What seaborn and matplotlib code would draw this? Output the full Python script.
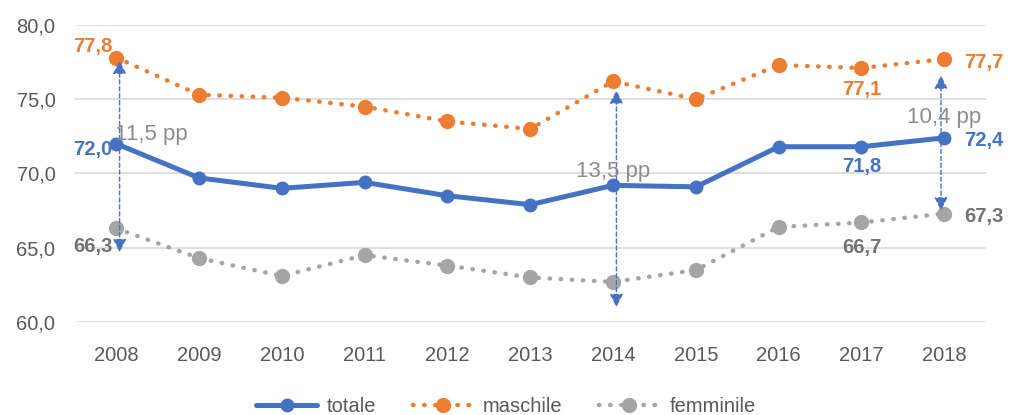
import matplotlib
matplotlib.use("Agg")
import matplotlib.pyplot as plt
import seaborn as sns
import pandas as pd

years = [2008, 2009, 2010, 2011, 2012, 2013, 2014, 2015, 2016, 2017, 2018]
totale = [72.0, 69.7, 69.0, 69.4, 68.5, 67.9, 69.2, 69.1, 71.8, 71.8, 72.4]
maschile = [77.8, 75.3, 75.1, 74.5, 73.5, 73.0, 76.2, 75.0, 77.3, 77.1, 77.7]
femminile = [66.3, 64.3, 63.1, 64.5, 63.8, 63.0, 62.7, 63.5, 66.4, 66.7, 67.3]
gap_labels = {2008: "11,5 pp", 2014: "13,5 pp", 2018: "10,4 pp"}

BLUE = "#4472C4"
ORANGE = "#ED7D31"
GREY = "#A5A5A5"
TXT = "#595959"
LABGREY = "#767171"

sns.set_theme(style="white")
plt.rcParams['font.family'] = ['Liberation Sans', 'DejaVu Sans']

df = pd.DataFrame({"anno": years, "totale": totale,
                   "maschile": maschile, "femminile": femminile})

fig = plt.figure(figsize=(10.12, 4.15), dpi=100)
ax = fig.add_axes([0.074, 0.224, 0.9, 0.716])

for y in [60, 65, 70, 75, 80]:
    ax.axhline(y, color="#D9D9D9", lw=1.2, zorder=0)

sns.lineplot(data=df, x="anno", y="maschile", ax=ax, color=ORANGE, lw=3.2,
             marker="o", markersize=11, markeredgewidth=0, label="maschile",
             linestyle=(0, (0.1, 2.4)), dash_capstyle="round", zorder=3)
sns.lineplot(data=df, x="anno", y="femminile", ax=ax, color=GREY, lw=3.2,
             marker="o", markersize=11, markeredgewidth=0, label="femminile",
             linestyle=(0, (0.1, 2.4)), dash_capstyle="round", zorder=3)
sns.lineplot(data=df, x="anno", y="totale", ax=ax, color=BLUE, lw=3.6,
             marker="o", markersize=10, markeredgewidth=0, label="totale",
             zorder=4)

ax.set_xlim(years[0] - 0.5, years[-1] + 0.5)
ax.set_ylim(60, 80)
ax.set_xticks(years)
ax.set_xticklabels([str(y) for y in years])
ax.set_yticks([60, 65, 70, 75, 80])
ax.set_yticklabels([f"{v:.1f}".replace(".", ",") for v in [60, 65, 70, 75, 80]])
ax.tick_params(axis="both", labelsize=14.5, labelcolor=TXT, length=0)
ax.tick_params(axis="x", pad=17)
ax.tick_params(axis="y", pad=14)
ax.set_xlabel("")
ax.set_ylabel("")
for s in ax.spines.values():
    s.set_visible(False)

def fmt(v):
    return f"{v:.1f}".replace(".", ",")

lab = dict(fontsize=14.5, fontweight="bold")
# left labels 2008
ax.text(2008 - 0.05, maschile[0] + 0.75, fmt(maschile[0]), color=ORANGE, ha="right", va="center", **lab)
ax.text(2008 - 0.05, totale[0] - 0.4, fmt(totale[0]), color=BLUE, ha="right", va="center", **lab)
ax.text(2008 - 0.05, femminile[0] - 1.2, fmt(femminile[0]), color=LABGREY, ha="right", va="center", **lab)
# 2017 labels below
ax.text(2017, maschile[9] - 1.45, fmt(maschile[9]), color=ORANGE, ha="center", va="center", **lab)
ax.text(2017, totale[9] - 1.3, fmt(totale[9]), color=BLUE, ha="center", va="center", **lab)
ax.text(2017, femminile[9] - 1.7, fmt(femminile[9]), color=LABGREY, ha="center", va="center", **lab)
# right labels 2018
ax.text(2018 + 0.24, maschile[10] - 0.2, fmt(maschile[10]), color=ORANGE, ha="left", va="center", **lab)
ax.text(2018 + 0.24, totale[10] - 0.2, fmt(totale[10]), color=BLUE, ha="left", va="center", **lab)
ax.text(2018 + 0.24, femminile[10] - 0.2, fmt(femminile[10]), color=LABGREY, ha="left", va="center", **lab)

# gap arrows
arrows = {2008: (77.6, 64.7), 2014: (75.6, 61.0), 2018: (76.6, 67.5)}
text_pos = {2008: (2008.42, 72.6), 2014: (2014.0, 70.1), 2018: (2018.0, 73.8)}
for yr, (top, bot) in arrows.items():
    x = yr + 0.04 if yr != 2018 else yr - 0.04
    ax.annotate("", xy=(x, top), xytext=(x, bot),
                arrowprops=dict(arrowstyle="<|-|>", color=BLUE, lw=1,
                                linestyle=(0, (3, 2)), mutation_scale=20,
                                shrinkA=0, shrinkB=0), zorder=5)
    tx, ty = text_pos[yr]
    ax.text(tx, ty, gap_labels[yr], color="#8C8C8C", fontsize=16,
            ha="center", va="center", zorder=6)

handles, labels = ax.get_legend_handles_labels()
order = [labels.index(n) for n in ["totale", "maschile", "femminile"]]
ax.legend_.remove()
fig.legend([handles[i] for i in order], [labels[i] for i in order],
           loc="lower center", ncol=3, frameon=False, fontsize=14.5,
           bbox_to_anchor=(0.5, -0.045), handlelength=3.0, handletextpad=0.5,
           columnspacing=1.8, labelcolor=TXT)

fig.savefig("out.png", dpi=100)
